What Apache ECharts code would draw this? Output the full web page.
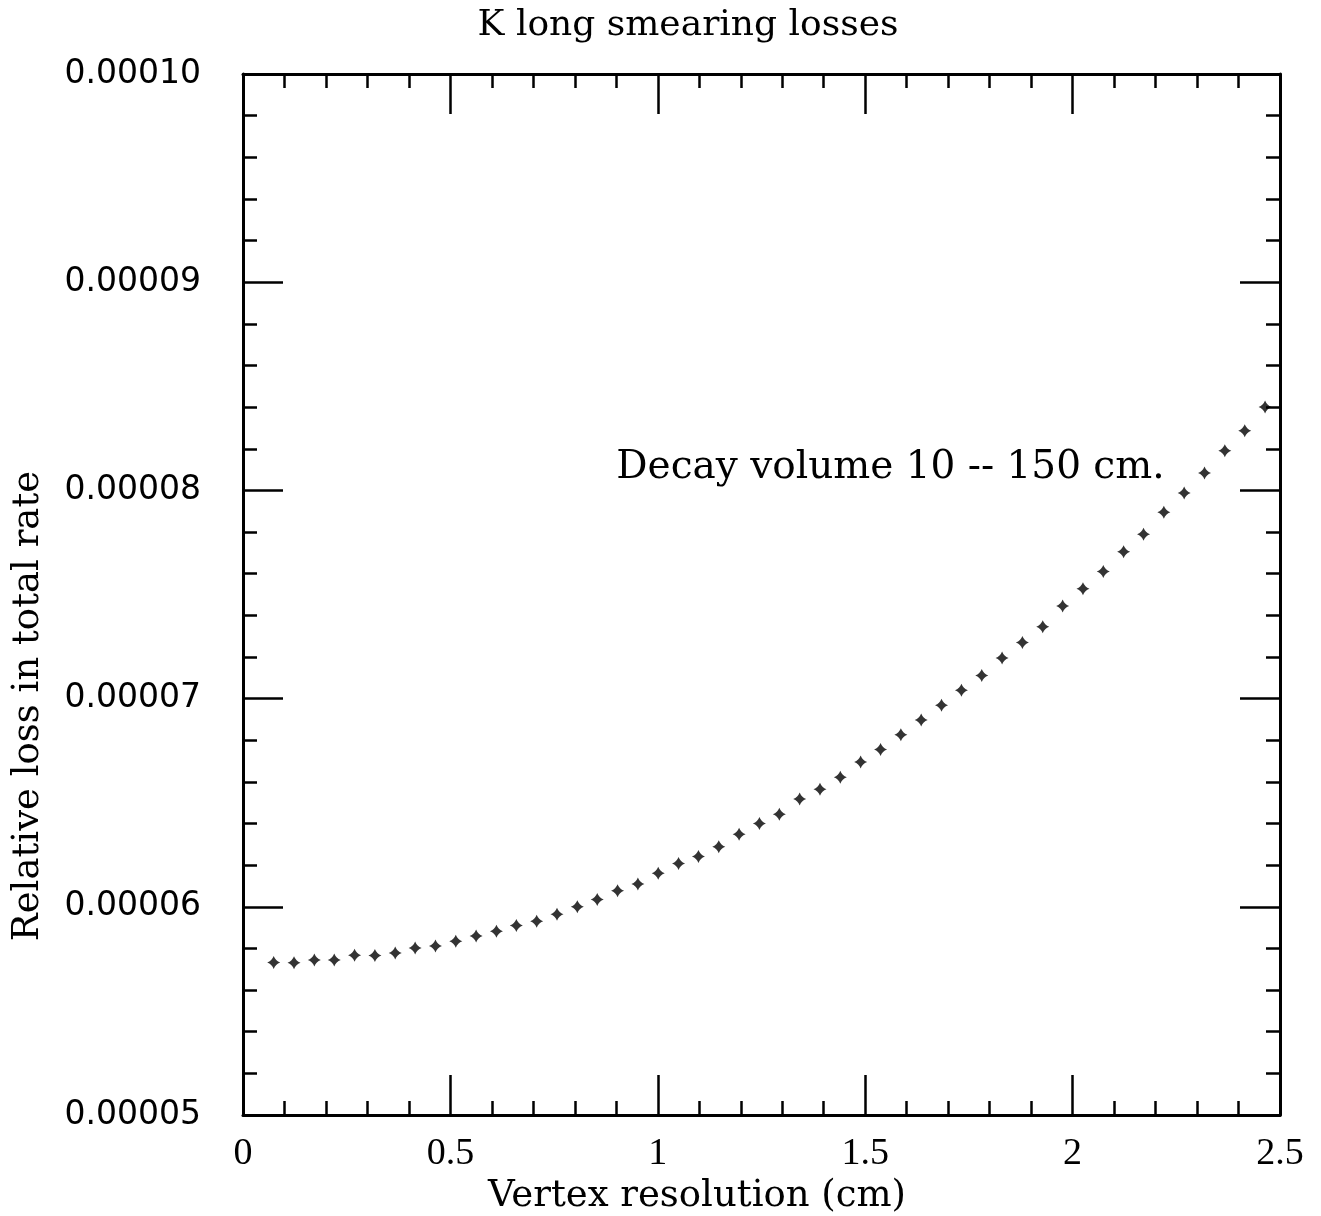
<!DOCTYPE html>
<html>
<head>
<meta charset="utf-8">
<script src="https://cdn.jsdelivr.net/npm/echarts@6/dist/echarts.min.js"></script>
<style>
html,body{margin:0;padding:0;background:#fff;}
#chart{width:1321px;height:1216px;}
</style>
</head>
<body>
<div id="chart"></div>
<script>
// ---- data ----
const titleText = 'K long smearing losses';
const xAxisName = 'Vertex resolution (cm)';
const yAxisName = 'Relative loss in total rate';
const annotationText = 'Decay volume 10 -- 150 cm.';
const annotationAt = [0.90, 0.00008106];

const xTicks = [0, 0.5, 1, 1.5, 2, 2.5];
const yTicks = ['0.00005', '0.00006', '0.00007', '0.00008', '0.00009', '0.00010'];

const xValues = [0.074, 0.123, 0.172, 0.220, 0.269, 0.318, 0.367, 0.415, 0.464, 0.513,
  0.562, 0.611, 0.659, 0.708, 0.757, 0.806, 0.854, 0.903, 0.952, 1.001,
  1.050, 1.098, 1.147, 1.196, 1.245, 1.293, 1.342, 1.391, 1.440, 1.489,
  1.537, 1.586, 1.635, 1.684, 1.732, 1.781, 1.830, 1.879, 1.928, 1.976,
  2.025, 2.074, 2.123, 2.171, 2.220, 2.269, 2.318, 2.367, 2.415, 2.464];
const yValues = [0.00005732, 0.00005731, 0.00005744, 0.00005744, 0.00005767, 0.00005766, 0.00005778, 0.00005802, 0.00005812, 0.00005835,
  0.00005860, 0.00005883, 0.00005910, 0.00005930, 0.00005964, 0.00006000, 0.00006035, 0.00006077, 0.00006109, 0.00006161,
  0.00006208, 0.00006242, 0.00006289, 0.00006349, 0.00006400, 0.00006444, 0.00006518, 0.00006565, 0.00006622, 0.00006696,
  0.00006755, 0.00006826, 0.00006897, 0.00006968, 0.00007040, 0.00007111, 0.00007195, 0.00007269, 0.00007345, 0.00007445,
  0.00007528, 0.00007610, 0.00007705, 0.00007789, 0.00007895, 0.00007988, 0.00008083, 0.00008191, 0.00008286, 0.00008400];

// ---- chart ----
const chart = echarts.init(document.getElementById('chart'), null, {renderer: 'canvas'});
const points = xValues.map((x, i) => [x, yValues[i]]);
const starPath = 'path://M5,0 Q6.4,3.6 10,5 Q6.4,6.4 5,10 Q3.6,6.4 0,5 Q3.6,3.6 5,0 Z';
const serif = '"DejaVu Serif", "Liberation Serif", serif';

function frameLine() { return {show: true, onZero: false, lineStyle: {color: '#000', width: 3}}; }
function majorTick() { return {show: true, inside: true, length: 40, lineStyle: {color: '#000', width: 2.5}}; }
function minorTick() { return {show: true, splitNumber: 5, length: 14, lineStyle: {color: '#000', width: 2.5}}; }

function xAxisBase(pos, showLabel) {
  return {
    type: 'value', position: pos, min: xTicks[0], max: xTicks[xTicks.length - 1], interval: 0.5,
    axisLine: frameLine(), axisTick: majorTick(), minorTick: minorTick(),
    splitLine: {show: false}, minorSplitLine: {show: false},
    axisLabel: {show: showLabel, margin: 20, fontFamily: '"Liberation Serif", serif', fontSize: 38, color: '#000',
      formatter: v => String(v)}
  };
}
function yAxisBase(pos, showLabel) {
  return {
    type: 'value', position: pos, min: 0.00005, max: 0.0001, interval: 0.00001,
    axisLine: frameLine(), axisTick: majorTick(), minorTick: minorTick(),
    splitLine: {show: false}, minorSplitLine: {show: false},
    axisLabel: {show: showLabel, margin: 42, fontFamily: '"DejaVu Sans", sans-serif', fontSize: 33, color: '#000',
      formatter: v => yTicks[Math.round((v - 0.00005) / 0.00001)]}
  };
}

function texts(ann) {
  const g = [
    {type: 'text', x: 688, y: 26, style: {text: titleText, font: '36px ' + serif, fill: '#000', align: 'center', verticalAlign: 'middle'}},
    {type: 'text', x: 697, y: 1196, style: {text: xAxisName, font: '37px ' + serif, fill: '#000', align: 'center', verticalAlign: 'middle'}},
    {type: 'text', x: 28, y: 706, rotation: Math.PI / 2, style: {text: yAxisName, font: '37px ' + serif, fill: '#000', align: 'center', verticalAlign: 'middle'}}
  ];
  if (ann) g.push({type: 'text', x: ann[0], y: ann[1], style: {text: annotationText, font: '39px ' + serif, fill: '#000', align: 'left', verticalAlign: 'middle'}});
  return g;
}

const option = {
  backgroundColor: '#fff',
  animation: false,
  grid: {left: 243, right: 41, top: 74, bottom: 101, containLabel: false},
  xAxis: [xAxisBase('bottom', true), xAxisBase('top', false)],
  yAxis: [yAxisBase('left', true), yAxisBase('right', false)],
  series: [{
    type: 'scatter', xAxisIndex: 0, yAxisIndex: 0,
    data: points, symbol: starPath, symbolSize: 13,
    itemStyle: {color: '#000'}
  }],
  graphic: texts(null)
};
chart.setOption(option);

const ann = chart.convertToPixel({xAxisIndex: 0, yAxisIndex: 0}, annotationAt);
chart.setOption({graphic: texts(ann)});
</script>
</body>
</html>
